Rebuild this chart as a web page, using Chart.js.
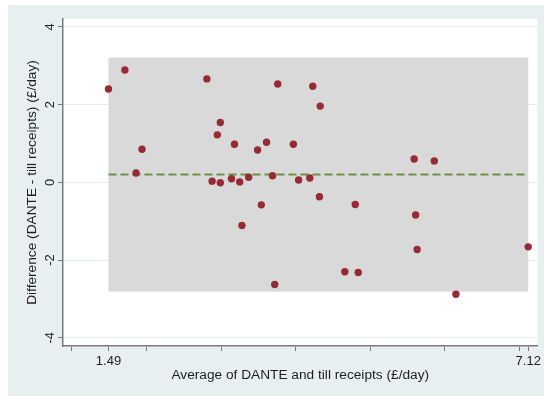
<!DOCTYPE html>
<html>
<head>
<meta charset="utf-8">
<script src="https://cdn.jsdelivr.net/npm/chart.js@4/dist/chart.umd.min.js"></script>
<style>
  html, body { margin: 0; padding: 0; background: #ffffff; }
  canvas { display: block; }
</style>
</head>
<body>
<canvas id="ba" width="544" height="396"></canvas>
<script>
// Bland–Altman comparison: DANTE vs till receipts (£/day)
const avgValues = [1.49, 1.71, 1.86, 1.94, 2.81, 2.88, 2.95, 2.99, 2.99, 3.14,
                   3.18, 3.25, 3.28, 3.37, 3.49, 3.54, 3.61, 3.69, 3.72, 3.76,
                   3.97, 4.04, 4.19, 4.23, 4.32, 4.33, 4.66, 4.80, 4.84, 5.59,
                   5.61, 5.63, 5.86, 6.15, 7.12];
const diffValues = [2.40, 2.89, 0.24, 0.85, 2.66, 0.03, 1.22, 1.54, -0.01, 0.09,
                    0.98, 0.01, -1.11, 0.13, 0.83, -0.58, 1.03, 0.17, -2.63, 2.53,
                    0.98, 0.06, 0.11, 2.47, -0.37, 1.96, -2.30, -0.57, -2.32, 0.60,
                    -0.84, -1.73, 0.55, -2.88, -1.66];

// mean difference and 95% limits of agreement, spanning the observed averages
const meanDiff = 0.20;
const limitsOfAgreement = [-2.81, 3.21];
const agreementSpan = [1.49, 7.12];

// axis ticks
const xTickValues = [1, 1.49, 2, 3, 4, 5, 6, 7, 7.12];
const xTickLabels = {1.49: '1.49', 7.12: '7.12'};
const yTickValues = [-4, -2, 0, 2, 4];

const FONT = "'Liberation Sans', Arial, Helvetica, sans-serif";
const TEXT = '#1e1e1e';
const AXIS = '#7a7a7a';

const backdrop = {
  id: 'backdrop',
  beforeDraw(chart) {
    const {ctx, chartArea: a} = chart;
    ctx.save();
    ctx.fillStyle = '#ffffff';
    ctx.fillRect(0, 0, chart.width, chart.height);
    ctx.fillStyle = '#e8eff1';
    ctx.fillRect(8, 5, chart.width - 8, chart.height - 5);
    ctx.fillStyle = '#ffffff';
    ctx.fillRect(a.left, a.top, a.right - a.left, a.bottom - a.top);
    ctx.restore();
  },
  beforeDatasetsDraw(chart) {
    const {ctx, scales: {x, y}} = chart;
    const x0 = x.getPixelForValue(agreementSpan[0]);
    const x1 = x.getPixelForValue(agreementSpan[1]);
    const y0 = y.getPixelForValue(limitsOfAgreement[1]);
    const y1 = y.getPixelForValue(limitsOfAgreement[0]);
    ctx.save();
    ctx.fillStyle = '#d9d9d9';
    ctx.fillRect(x0, y0, x1 - x0, y1 - y0);
    ctx.restore();
  }
};

new Chart(document.getElementById('ba'), {
  type: 'scatter',
  data: {
    datasets: [
      {
        label: 'Difference',
        data: avgValues.map((v, i) => ({x: v, y: diffValues[i]})),
        backgroundColor: '#962b35',
        borderColor: '#962b35',
        borderWidth: 0,
        pointRadius: 3.7,
        pointHoverRadius: 3.7
      },
      {
        label: 'Mean difference',
        type: 'line',
        data: agreementSpan.map(v => ({x: v, y: meanDiff})),
        borderColor: '#6f8f4a',
        borderWidth: 2,
        borderDash: [8, 4],
        pointRadius: 0,
        fill: false
      }
    ]
  },
  options: {
    responsive: false,
    devicePixelRatio: 1,
    animation: false,
    events: [],
    layout: {padding: {top: 19, right: 6, bottom: 0, left: 0}},
    plugins: {legend: {display: false}, tooltip: {enabled: false}},
    scales: {
      x: {
        type: 'linear',
        min: 0.88,
        max: 7.244,
        afterBuildTicks(scale) { scale.ticks = xTickValues.map(v => ({value: v})); },
        afterFit(scale) { scale.height = 50; },
        ticks: {
          autoSkip: false,
          maxRotation: 0,
          padding: 3,
          color: TEXT,
          font: {family: FONT, size: 13},
          callback: (v) => xTickLabels[v] || ''
        },
        grid: {drawOnChartArea: false, drawTicks: true, tickLength: 5, tickColor: AXIS, tickWidth: 1},
        border: {display: true, color: AXIS, width: 1.5},
        title: {
          display: true,
          text: 'Average of DANTE and till receipts (£/day)',
          color: TEXT,
          font: {family: FONT, size: 13.7},
          padding: {top: 0, bottom: 12.7}
        }
      },
      y: {
        type: 'linear',
        min: -4.21,
        max: 4.2,
        afterBuildTicks(scale) { scale.ticks = yTickValues.map(v => ({value: v})); },
        afterFit(scale) { scale.width = 63; },
        ticks: {
          autoSkip: false,
          minRotation: 90,
          maxRotation: 90,
          crossAlign: 'center',
          padding: 2,
          color: TEXT,
          font: {family: FONT, size: 13}
        },
        grid: {color: '#e3ebee', lineWidth: 1, drawTicks: true, tickLength: 5, tickColor: AXIS, tickWidth: 1},
        border: {display: true, color: AXIS, width: 1.5},
        title: {
          display: true,
          text: 'Difference (DANTE - till receipts) (£/day)',
          color: TEXT,
          font: {family: FONT, size: 13.7},
          padding: {top: 23.7, bottom: 0}
        }
      }
    }
  },
  plugins: [backdrop]
});
</script>
</body>
</html>
